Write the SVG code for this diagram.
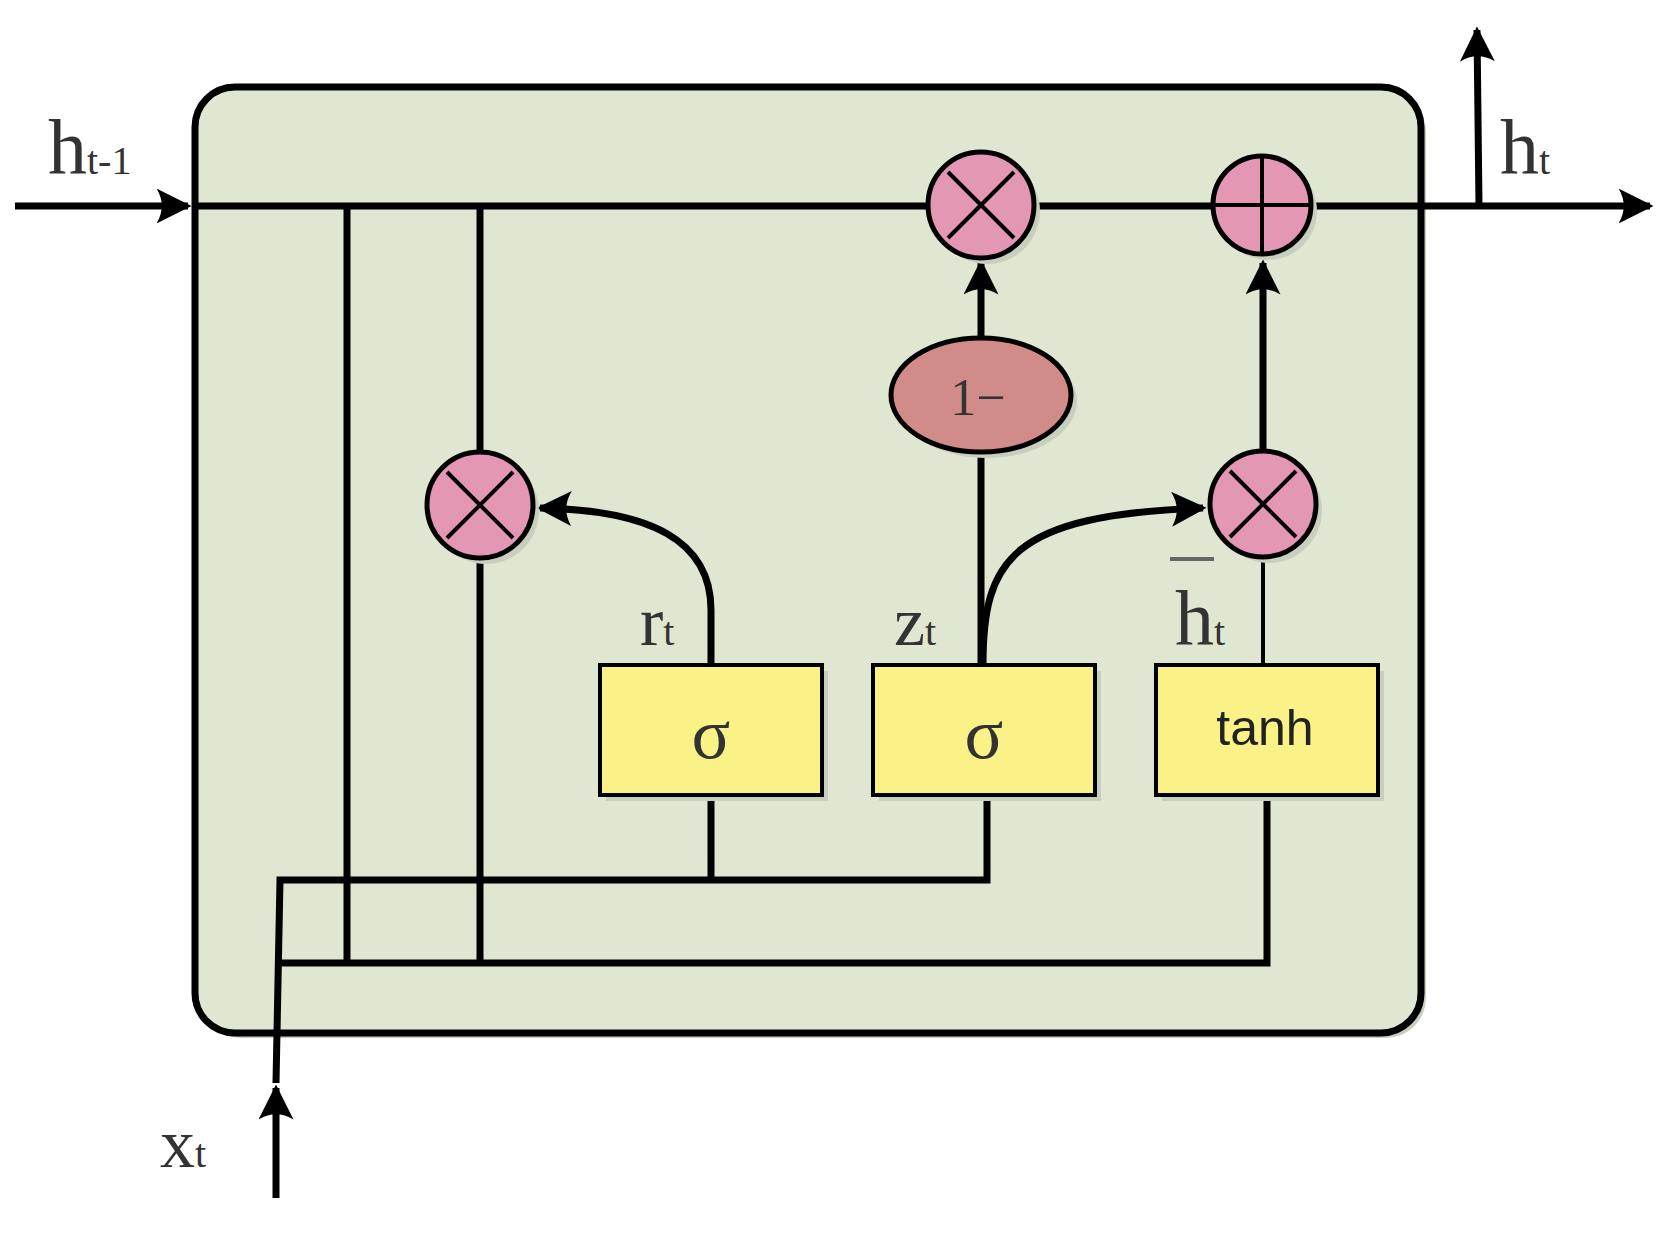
<svg xmlns="http://www.w3.org/2000/svg" width="1665" height="1233" viewBox="0 0 1665 1233">
<style>
.ln{stroke:#000;stroke-width:7;fill:none}
.th{stroke:#000;stroke-width:4;fill:none}
.op{fill:#e397b4;stroke:#000;stroke-width:5}
.bx{fill:#fbf287;stroke:#000;stroke-width:4}
.sh{fill:#c9cfbf}
.lb{font-family:"Liberation Serif",serif;fill:#333}
.sub{font-size:40px}
</style>
<defs>
<marker id="ar" viewBox="0 0 20 20" refX="18" refY="10" markerWidth="5" markerHeight="5" orient="auto" markerUnits="strokeWidth">
<path d="M0,0 L20,10 L0,20 Q6,10 0,0Z" fill="#000"/>
</marker>
</defs>
<rect x="200" y="92" width="1226" height="946" rx="40" class="sh"/>
<rect x="195" y="87" width="1226" height="946" rx="40" fill="#dfe6d1" stroke="#000" stroke-width="7"/>
<g id="connectors">
<line x1="15" y1="206" x2="188" y2="206" class="ln" marker-end="url(#ar)"/>
<line x1="195" y1="206" x2="1650" y2="206" class="ln" marker-end="url(#ar)"/>
<line x1="1479" y1="206" x2="1477" y2="30" class="ln" marker-end="url(#ar)"/>
<line x1="347" y1="206" x2="347" y2="963" class="ln"/>
<line x1="480" y1="206" x2="480" y2="963" class="ln"/>
<path d="M276,1198 L276,1088" class="ln" marker-end="url(#ar)"/>
<path d="M276,1083 L280,880 L987,880 L987,795" class="ln"/>
<path d="M711,880 L711,795" class="ln"/>
<path d="M278,963 L1267,963 L1267,795" class="ln"/>
<path d="M711,665 L711,610 C711,540 650,510 540,508" class="ln" marker-end="url(#ar)"/>
<path d="M983,665 C983,560 1010,515 1203,508" class="ln" marker-end="url(#ar)"/>
<line x1="981" y1="338" x2="981" y2="263" class="ln" marker-end="url(#ar)"/>
<line x1="1263" y1="450" x2="1263" y2="263" class="ln" marker-end="url(#ar)"/>
<line x1="1263" y1="558" x2="1263" y2="665" class="th"/>
<line x1="981" y1="452" x2="981" y2="665" class="ln"/>
</g>
<g id="mul-left"><circle cx="486" cy="511" r="53" class="sh"/><circle cx="480" cy="505" r="53" class="op"/><path d="M447,472 L513,538 M513,472 L447,538" class="th" stroke-width="5"/></g>
<g id="mul-top"><circle cx="987" cy="211" r="53" class="sh"/><circle cx="981" cy="205" r="53" class="op"/><path d="M948,172 L1014,238 M1014,172 L948,238" class="th" stroke-width="5"/></g>
<g id="add"><circle cx="1268" cy="211" r="49" class="sh"/><circle cx="1262" cy="205" r="49" class="op"/><path d="M1213,205 H1311 M1262,156 V254" class="th" stroke-width="5"/></g>
<g id="mul-right"><circle cx="1269" cy="510" r="53" class="sh"/><circle cx="1263" cy="504" r="53" class="op"/><path d="M1230,471 L1296,537 M1296,471 L1230,537" class="th" stroke-width="5"/></g>
<g id="one-minus"><ellipse cx="987" cy="401" rx="90" ry="57" class="sh"/><ellipse cx="981" cy="395" rx="90" ry="57" fill="#d18b89" stroke="#000" stroke-width="5"/><text x="978" y="415" class="lb" font-size="52" text-anchor="middle">1−</text></g>
<g id="r-gate"><rect x="606" y="671" width="222" height="130" class="sh"/><rect x="600" y="665" width="222" height="130" class="bx"/><text x="711" y="758" class="lb" font-size="72" text-anchor="middle" fill="#222">σ</text></g>
<g id="z-gate"><rect x="879" y="671" width="222" height="130" class="sh"/><rect x="873" y="665" width="222" height="130" class="bx"/><text x="984" y="758" class="lb" font-size="72" text-anchor="middle" fill="#222">σ</text></g>
<g id="tanh-gate"><rect x="1162" y="671" width="222" height="130" class="sh"/><rect x="1156" y="665" width="222" height="130" class="bx"/><text x="1265" y="745" font-family="Liberation Sans,sans-serif" font-size="50" text-anchor="middle" fill="#222">tanh</text></g>
<g id="labels">
<text x="48" y="174" class="lb" font-size="78">h<tspan class="sub">t-1</tspan></text>
<text x="1500" y="174" class="lb" font-size="78">h<tspan class="sub">t</tspan></text>
<text x="640" y="645" class="lb" font-size="70">r<tspan class="sub">t</tspan></text>
<text x="894" y="645" class="lb" font-size="70">z<tspan class="sub">t</tspan></text>
<text x="1175" y="645" class="lb" font-size="78">h<tspan class="sub">t</tspan></text>
<line x1="1170" y1="559" x2="1214" y2="559" stroke="#666" stroke-width="4"/>
<text x="160" y="1167" class="lb" font-size="70">x<tspan class="sub">t</tspan></text>
</g>
</svg>
